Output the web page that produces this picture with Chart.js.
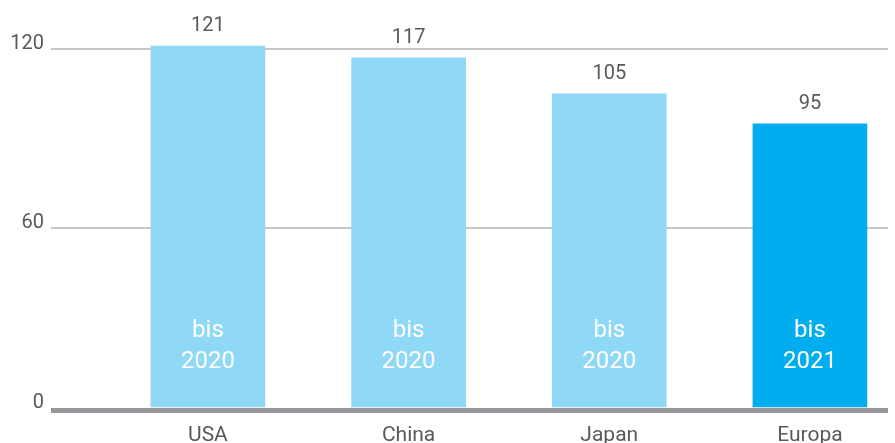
<!DOCTYPE html>
<html><head><meta charset="utf-8">
<script src="https://cdn.jsdelivr.net/npm/chart.js@4"></script>
<style>html,body{margin:0;padding:0;background:#fff;overflow:hidden}</style>
</head><body>
<canvas id="c" width="895" height="443"></canvas>
<script>
const categories = ['USA', 'China', 'Japan', 'Europa'];
const values = [121, 117, 105, 95];
const years = ['2020', '2020', '2020', '2021'];
const prefix = 'bis';
const yTicks = [0, 60, 120];
const barColors = ['#8fd8f6', '#8fd8f6', '#8fd8f6', '#00aeef'];

const FONT = 'Roboto, "Noto Sans", sans-serif';
const TEXT = '#58595b';

const labelsPlugin = {
  id: 'labels',
  afterDatasetsDraw(chart) {
    const ctx = chart.ctx;
    const area = chart.chartArea;
    const meta = chart.getDatasetMeta(0);
    const y0 = chart.scales.y.getPixelForValue(0);
    ctx.save();
    ctx.fillStyle = '#96979b';
    ctx.fillRect(area.left, y0, area.right - area.left, 5);
    meta.data.forEach((bar, i) => {
      ctx.textAlign = 'center';
      ctx.textBaseline = 'alphabetic';
      ctx.fillStyle = TEXT;
      ctx.font = '20px ' + FONT;
      ctx.fillText(String(values[i]), bar.x, bar.y - 15);
      ctx.fillStyle = '#ffffff';
      ctx.font = '24px ' + FONT;
      ctx.fillText(prefix, bar.x, y0 - 71);
      ctx.fillText(years[i], bar.x, y0 - 40);
    });
    ctx.restore();
  }
};

new Chart(document.getElementById('c'), {
  type: 'bar',
  data: {
    datasets: [{
      data: values.map((v, i) => ({ x: i + 1, y: v })),
      backgroundColor: barColors,
      barThickness: 114,
      borderWidth: 0
    }]
  },
  options: {
    responsive: false,
    animation: false,
    devicePixelRatio: 1,
    layout: { padding: { top: 34, right: 7, left: 0, bottom: 0 } },
    plugins: { legend: { display: false }, tooltip: { enabled: false } },
    scales: {
      x: {
        type: 'linear', offset: false, min: 0.218, max: 4.389,
        grid: { display: false, drawTicks: false }, border: { display: false },
        afterBuildTicks: s => { s.ticks = categories.map((c, i) => ({ value: i + 1 })); },
        afterFit: s => { s.height = 35; },
        ticks: {
          callback: v => categories[v - 1] ?? '',
          color: TEXT, font: { family: FONT, size: 21 }, padding: 15,
          autoSkip: false, maxRotation: 0
        }
      },
      y: {
        min: 0, max: 125,
        afterBuildTicks: s => { s.ticks = yTicks.map(v => ({ value: v })); },
        afterFit: s => { s.width = 51; },
        grid: {
          color: c => (c.tick && c.tick.value === 0) ? 'rgba(0,0,0,0)' : '#c8c8c8',
          lineWidth: 2, drawTicks: false
        },
        border: { display: false },
        ticks: { color: TEXT, font: { family: FONT, size: 20 }, padding: 7, labelOffset: -5 }
      }
    }
  },
  plugins: [labelsPlugin]
});
</script>
</body></html>
